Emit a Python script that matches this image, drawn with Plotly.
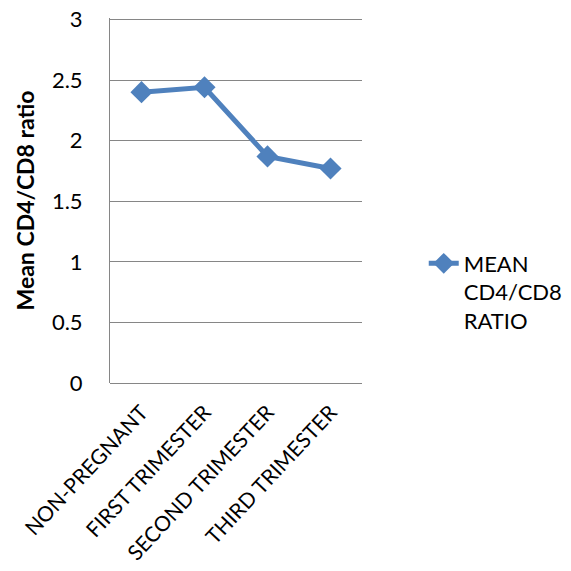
import plotly.graph_objects as go

categories = ["NON-PREGNANT", "FIRST TRIMESTER", "SECOND TRIMESTER", "THIRD TRIMESTER"]
values = [2.40, 2.44, 1.87, 1.77]
series_name = "MEAN<br>CD4/CD8<br>RATIO"
y_ticks = [0, 0.5, 1, 1.5, 2, 2.5, 3]
y_tick_labels = ["0", "0.5", "1", "1.5", "2", "2.5", "3"]

FONT = "Lato, 'Open Sans', sans-serif"
BLUE = "#4F81BD"
GRID = "#868686"

fig = go.Figure()
fig.add_trace(go.Scatter(
    x=categories, y=values, name=series_name, mode="lines+markers",
    line=dict(color=BLUE, width=5),
    marker=dict(symbol="diamond", size=17, color=BLUE),
))

fig.update_layout(
    width=571, height=571,
    margin=dict(l=110, r=209, t=18, b=188, autoexpand=False),
    paper_bgcolor="white", plot_bgcolor="white",
    font=dict(family=FONT, color="black", size=18),
    showlegend=True,
    legend=dict(x=1.245, y=0.385, xanchor="left", yanchor="top",
                font=dict(size=22, family=FONT), valign="top",
                bgcolor="rgba(0,0,0,0)"),
    xaxis=dict(
        type="category", tickangle=-47, showgrid=False, showline=False,
        ticks="", tickfont=dict(size=21, family=FONT),
        ticklabelstandoff=12,
        range=[-0.5, 3.5],
    ),
    yaxis=dict(
        range=[0, 3.012], tickvals=y_ticks, ticktext=y_tick_labels,
        showgrid=True, gridcolor=GRID, gridwidth=1,
        showline=True, linecolor=GRID, linewidth=1, zeroline=True,
        zerolinecolor=GRID, zerolinewidth=1,
        ticks="", tickfont=dict(size=22, family=FONT),
        ticklabelstandoff=22,
        title=dict(text="<b>Mean CD4/CD8 ratio</b>", font=dict(size=23, family=FONT), standoff=10),
    ),
)

fig.write_html("out.html")
